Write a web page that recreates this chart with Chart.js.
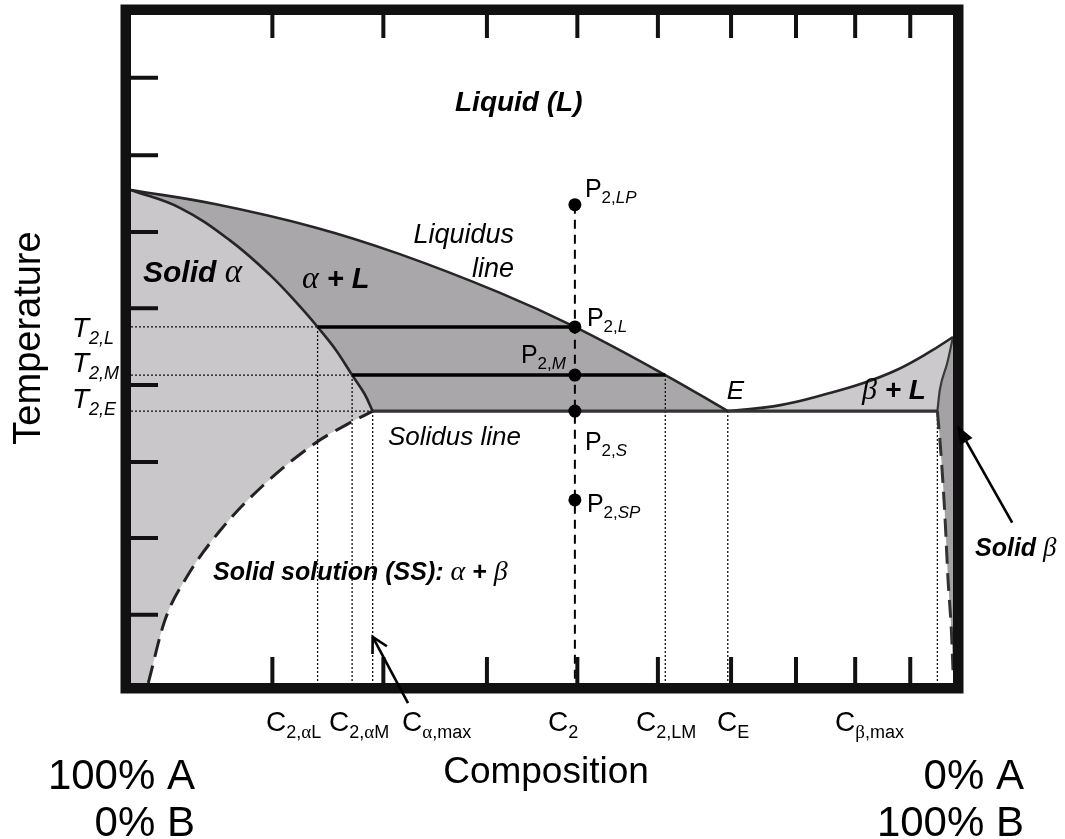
<!DOCTYPE html>
<html>
<head>
<meta charset="utf-8">
<script src="https://cdn.jsdelivr.net/npm/chart.js@4/dist/chart.umd.min.js"></script>
<style>
  html, body { margin: 0; padding: 0; background: #fff; }
  #wrap { width: 1065px; height: 839px; }
</style>
</head>
<body>
<div id="wrap"><canvas id="c" width="1065" height="839"></canvas></div>
<script>
// Binary eutectic phase diagram: composition in % B (0..100), temperature in relative units (0..100)

// Key temperatures
const T_MELT_A = 73.8;
const T_MELT_B = 51.8;
const T2_LP = 71.6;
const T2_L = 53.3;
const T2_M = 46.1;
const T2_E = 40.7;
const T2_SP = 27.4;

// Key compositions
const C2_aL = 22.7;
const C2_aM = 26.9;
const Ca_max = 29.4;
const C2 = 54.0;
const C2_LM = 65.0;
const C_E = 72.6;
const Cb_max = 98.1;

// Phase boundaries [composition, temperature]
const liquidusA = [[0, 73.8], [10.2, 71.7], [22.4, 68.2], [32.7, 64.2], [44.9, 58.4], [54.0, 53.3], [65.0, 46.1], [72.6, 40.7]];
const solidusA  = [[0, 73.8], [6.0, 71.1], [12.0, 66.3], [16.9, 61.1], [20.6, 56.3], [22.7, 53.3], [24.9, 49.9], [26.9, 46.1], [28.4, 43.3], [29.4, 40.7]];
const solvusA   = [[2.1, 0], [4.1, 9.3], [6.8, 15.9], [11.1, 23.2], [16.1, 29.6], [22.4, 35.9], [26.4, 38.8], [29.4, 40.7]];
const liquidusB = [[72.6, 40.7], [79.0, 41.6], [85.0, 43.4], [89.1, 44.9], [93.2, 46.9], [97.2, 49.6], [100, 51.8]];
const solidusB  = [[98.1, 40.7], [98.4, 43.9], [99.3, 47.9], [100, 51.8]];
const solvusB   = [[98.1, 40.7], [98.5, 34.9], [99.0, 25.4], [99.4, 15.4], [99.8, 7.9], [100, 1.9]];

// State points along the C2 isopleth
const stateTemps = [T2_LP, T2_L, T2_M, T2_E, T2_SP];

// Frame tick positions
const xTicks = [17.2, 30.7, 43.3, 54.3, 64.1, 73.0, 80.9, 88.1, 94.8];
const yTicks = [10.2, 21.7, 33.1, 44.6, 56.1, 67.5, 79.0, 90.6];

// Region colours
const COL_SOLID_A = '#c9c7ca';
const COL_A_L = '#a9a7aa';
const COL_B_L = '#cbc9cc';
const COL_SOLID_B = '#a4a2a5';

const SANS = '"Liberation Sans", Arial, Helvetica, sans-serif';
const SERIF = '"Liberation Serif", "Times New Roman", serif';
const font = (size, style) => (style ? style + ' ' : '') + size + 'px ' + SANS;
const gfont = (size, style) => (style ? style + ' ' : '') + size + 'px ' + SERIF;

const xy = arr => arr.map(([x, y]) => ({ x, y }));

// Dotted guide lines from the tie-line ends down to the composition axis
const verticalGuides = [[C2_aL, T2_L], [C2_aM, T2_M], [Ca_max, T2_E], [C2_LM, T2_M], [C_E, T2_E], [Cb_max, T2_E]];
const horizontalGuides = [[T2_L, C2_aL], [T2_M, C2_aM], [T2_E, Ca_max]];

const vGuideData = [];
verticalGuides.forEach(([c, t]) => { vGuideData.push({ x: c, y: t }, { x: c, y: 0 }, { x: c, y: null }); });
const hGuideData = [];
horizontalGuides.forEach(([t, c]) => { hGuideData.push({ x: 0, y: t }, { x: c, y: t }, { x: c, y: null }); });

const curve = (label, data, extra) => Object.assign({
  label, data: xy(data), borderColor: '#262626', borderWidth: 2.6,
  tension: 0.4, pointRadius: 0, fill: false
}, extra || {});

const datasets = [
  { label: 'points', data: stateTemps.map(t => ({ x: C2, y: t })), showLine: false,
    pointRadius: 6.5, pointBackgroundColor: '#000', pointBorderColor: '#000', pointBorderWidth: 0, order: 0 },
  { label: 'tieL', data: [{ x: C2_aL, y: T2_L }, { x: C2, y: T2_L }], borderColor: '#000', borderWidth: 3.6, pointRadius: 0, tension: 0, order: 1 },
  { label: 'tieM', data: [{ x: C2_aM, y: T2_M }, { x: C2_LM, y: T2_M }], borderColor: '#000', borderWidth: 3.6, pointRadius: 0, tension: 0, order: 1 },
  { label: 'isopleth', data: [{ x: C2, y: T2_LP }, { x: C2, y: 0 }], borderColor: '#000', borderWidth: 2,
    borderDash: [9, 6], pointRadius: 0, tension: 0, order: 2 },
  curve('liquidusA', liquidusA, { order: 3 }),
  curve('solidusA', solidusA, { order: 3 }),
  { label: 'eutectic', data: [{ x: Ca_max, y: T2_E }, { x: Cb_max, y: T2_E }], borderColor: '#333', borderWidth: 3.2,
    pointRadius: 0, tension: 0, order: 3 },
  curve('liquidusB', liquidusB, { order: 3 }),
  curve('solidusB', solidusB, { order: 3, borderColor: '#3a3a3a', borderWidth: 2.2, tension: 0, cubicInterpolationMode: 'monotone' }),
  curve('solvusA', solvusA, { order: 3, borderDash: [18, 9], borderWidth: 3, borderColor: '#222', tension: 0, cubicInterpolationMode: 'monotone' }),
  curve('solvusB', solvusB, { order: 3, borderDash: [18, 9], borderWidth: 3, borderColor: '#333', tension: 0, cubicInterpolationMode: 'monotone' }),
  { label: 'vGuides', data: vGuideData, borderColor: '#111', borderWidth: 1.3, borderDash: [2, 2],
    pointRadius: 0, tension: 0, spanGaps: false, order: 4 },
  { label: 'hGuides', data: hGuideData, borderColor: '#111', borderWidth: 1.3, borderDash: [2, 2],
    pointRadius: 0, tension: 0, spanGaps: false, order: 4 }
];

function metaOf(chart, label) {
  const i = chart.data.datasets.findIndex(d => d.label === label);
  return chart.getDatasetMeta(i);
}

// Append a dataset's smoothed path to the current canvas path
function trace(ctx, chart, label, reverse) {
  const meta = metaOf(chart, label);
  meta.dataset.updateControlPoints(chart.chartArea, 'x');
  const pts = reverse ? meta.data.slice().reverse() : meta.data;
  pts.forEach((p, i) => {
    if (i === 0) { ctx.lineTo(p.x, p.y); return; }
    const q = pts[i - 1];
    if (reverse) ctx.bezierCurveTo(q.cp1x, q.cp1y, p.cp2x, p.cp2y, p.x, p.y);
    else ctx.bezierCurveTo(q.cp2x, q.cp2y, p.cp1x, p.cp1y, p.x, p.y);
  });
}

const regionFill = {
  id: 'regionFill',
  beforeDatasetsDraw(chart) {
    const { ctx, scales: { x, y } } = chart;
    const P = (cx, ty) => [x.getPixelForValue(cx), y.getPixelForValue(ty)];
    ctx.save();

    // Solid alpha
    ctx.beginPath();
    ctx.moveTo(...P(0, 0));
    ctx.lineTo(...P(0, T_MELT_A));
    trace(ctx, chart, 'solidusA', false);
    trace(ctx, chart, 'solvusA', true);
    ctx.closePath();
    ctx.fillStyle = COL_SOLID_A;
    ctx.fill();

    // alpha + L
    ctx.beginPath();
    ctx.moveTo(...P(0, T_MELT_A));
    trace(ctx, chart, 'liquidusA', false);
    ctx.lineTo(...P(Ca_max, T2_E));
    trace(ctx, chart, 'solidusA', true);
    ctx.closePath();
    ctx.fillStyle = COL_A_L;
    ctx.fill();

    // beta + L
    ctx.beginPath();
    ctx.moveTo(...P(C_E, T2_E));
    trace(ctx, chart, 'liquidusB', false);
    trace(ctx, chart, 'solidusB', true);
    ctx.closePath();
    ctx.fillStyle = COL_B_L;
    ctx.fill();

    // Solid beta
    ctx.beginPath();
    ctx.moveTo(...P(Cb_max, T2_E));
    trace(ctx, chart, 'solidusB', false);
    ctx.lineTo(...P(100, 0));
    trace(ctx, chart, 'solvusB', true);
    ctx.closePath();
    ctx.fillStyle = COL_SOLID_B;
    ctx.fill();

    ctx.restore();
  }
};

// Draw a run of text pieces with individual fonts / baseline shifts
function runs(ctx, x, yb, parts, align) {
  let w = 0;
  parts.forEach(p => { ctx.font = p.f; p.w = ctx.measureText(p.t).width; w += p.w; });
  let cx = align === 'right' ? x - w : align === 'center' ? x - w / 2 : x;
  parts.forEach(p => { ctx.font = p.f; ctx.fillText(p.t, cx, yb + (p.dy || 0)); cx += p.w; });
}

function arrow(ctx, x0, y0, x1, y1, filled) {
  const a = Math.atan2(y1 - y0, x1 - x0);
  const L = filled ? 20 : 17, s = filled ? 0.36 : 0.5;
  ctx.beginPath();
  ctx.moveTo(x0, y0);
  ctx.lineTo(filled ? x1 - Math.cos(a) * L * 0.8 : x1, filled ? y1 - Math.sin(a) * L * 0.8 : y1);
  ctx.stroke();
  const l = [x1 - L * Math.cos(a - s), y1 - L * Math.sin(a - s)];
  const r = [x1 - L * Math.cos(a + s), y1 - L * Math.sin(a + s)];
  ctx.beginPath();
  if (filled) {
    ctx.moveTo(x1, y1); ctx.lineTo(...l); ctx.lineTo(...r); ctx.closePath(); ctx.fill();
  } else {
    ctx.moveTo(...l); ctx.lineTo(x1, y1); ctx.lineTo(...r); ctx.stroke();
  }
}

const frameAndLabels = {
  id: 'frameAndLabels',
  afterDatasetsDraw(chart) {
    const { ctx, chartArea: a, scales: { x, y } } = chart;
    const px = v => x.getPixelForValue(v);
    const py = v => y.getPixelForValue(v);
    ctx.save();

    // Heavy frame
    ctx.strokeStyle = '#111';
    ctx.lineWidth = 10.5;
    ctx.strokeRect(a.left - 5.25, a.top - 5.25, a.right - a.left + 10.5, a.bottom - a.top + 10.5);

    // Inward tick marks
    ctx.lineWidth = 4;
    ctx.lineCap = 'butt';
    ctx.beginPath();
    xTicks.forEach(v => {
      ctx.moveTo(px(v), a.top); ctx.lineTo(px(v), a.top + 23);
      ctx.moveTo(px(v), a.bottom); ctx.lineTo(px(v), a.bottom - 26);
    });
    yTicks.forEach(v => { ctx.moveTo(a.left, py(v)); ctx.lineTo(a.left + 27, py(v)); });
    ctx.stroke();

    ctx.fillStyle = '#000';
    ctx.textBaseline = 'alphabetic';
    ctx.textAlign = 'left';

    // Region labels
    runs(ctx, 455, 111, [{ t: 'Liquid (L)', f: font(28, 'italic bold') }]);
    runs(ctx, 143, 282, [{ t: 'Solid ', f: font(30, 'italic bold') }, { t: 'α', f: gfont(33, 'italic') }]);
    runs(ctx, 302, 288, [{ t: 'α', f: gfont(32, 'italic') }, { t: ' + L', f: font(29, 'italic bold') }]);
    runs(ctx, 514, 243, [{ t: 'Liquidus', f: font(27, 'italic') }], 'right');
    runs(ctx, 514, 277, [{ t: 'line', f: font(27, 'italic') }], 'right');
    runs(ctx, px(C_E) - 1, py(T2_E) - 12, [{ t: 'E', f: font(26, 'italic') }]);
    runs(ctx, 862, 399, [{ t: 'β', f: gfont(30, 'italic') }, { t: ' + L', f: font(28, 'italic bold') }]);
    runs(ctx, 388, 445, [{ t: 'Solidus line', f: font(26, 'italic') }]);
    runs(ctx, 213, 580, [
      { t: 'Solid solution (SS): ', f: font(25, 'italic bold') },
      { t: 'α', f: gfont(28, 'italic') },
      { t: ' + ', f: font(25, 'italic bold') },
      { t: 'β', f: gfont(28, 'italic') }
    ]);
    runs(ctx, 975, 556, [{ t: 'Solid ', f: font(25, 'italic bold') }, { t: 'β', f: gfont(27, 'italic') }]);

    // State point labels
    const pLabel = (xl, yb, sub) => runs(ctx, xl, yb, [
      { t: 'P', f: font(25) },
      { t: '2,', f: font(17), dy: 6 },
      { t: sub, f: font(17, 'italic'), dy: 6 }
    ]);
    const cx = px(C2);
    pLabel(cx + 10, py(T2_LP) - 8, 'LP');
    pLabel(cx + 12, py(T2_L) - 1, 'L');
    pLabel(cx - 54, py(T2_M) - 12, 'M');
    pLabel(cx + 10, py(T2_E) + 39, 'S');
    pLabel(cx + 12, py(T2_SP) + 12, 'SP');

    // Temperature labels on the left
    const tLabel = (yb, sub) => runs(ctx, 72, yb, [
      { t: 'T', f: font(28, 'italic') },
      { t: '2,' + sub, f: font(18, 'italic'), dy: 7 }
    ]);
    tLabel(337, 'L');
    tLabel(372, 'M');
    tLabel(408, 'E');

    // Composition labels under the axis
    const cLabel = (xl, sub) => runs(ctx, xl, 731, [{ t: 'C', f: font(28) }].concat(sub));
    const s = t => ({ t, f: font(18), dy: 7 });
    const g = t => ({ t, f: gfont(19), dy: 7 });
    cLabel(266, [s('2,'), g('α'), s('L')]);
    cLabel(329, [s('2,'), g('α'), s('M')]);
    cLabel(402, [g('α'), s(',max')]);
    cLabel(548, [s('2')]);
    cLabel(636, [s('2,LM')]);
    cLabel(717, [s('E')]);
    cLabel(835, [g('β'), s(',max')]);

    // Axis titles
    runs(ctx, 546, 783, [{ t: 'Composition', f: font(37) }], 'center');
    runs(ctx, 195, 789, [{ t: '100% A', f: font(42) }], 'right');
    runs(ctx, 195, 836, [{ t: '0% B', f: font(42) }], 'right');
    runs(ctx, 1024, 789, [{ t: '0% A', f: font(42) }], 'right');
    runs(ctx, 1024, 836, [{ t: '100% B', f: font(42) }], 'right');

    ctx.save();
    ctx.translate(40, 338);
    ctx.rotate(-Math.PI / 2);
    runs(ctx, 0, 0, [{ t: 'Temperature', f: font(38) }], 'center');
    ctx.restore();

    // Pointer arrows
    ctx.strokeStyle = '#000';
    ctx.fillStyle = '#000';
    ctx.lineWidth = 2.6;
    arrow(ctx, px(33.7), py(-3.0), px(Ca_max), py(6.9), false);
    arrow(ctx, px(107.2), py(24.0), px(100.5), py(38.6), true);

    ctx.restore();
  }
};

new Chart(document.getElementById('c'), {
  type: 'line',
  data: { datasets },
  options: {
    responsive: false,
    animation: false,
    devicePixelRatio: 1,
    events: [],
    layout: { padding: { left: 131, right: 112, top: 15, bottom: 156 } },
    plugins: { legend: { display: false }, tooltip: { enabled: false } },
    scales: {
      x: { type: 'linear', min: 0, max: 100, display: false },
      y: { type: 'linear', min: 0, max: 100, display: false }
    },
    elements: { line: { capBezierPoints: true } }
  },
  plugins: [regionFill, frameAndLabels]
});
</script>
</body>
</html>
